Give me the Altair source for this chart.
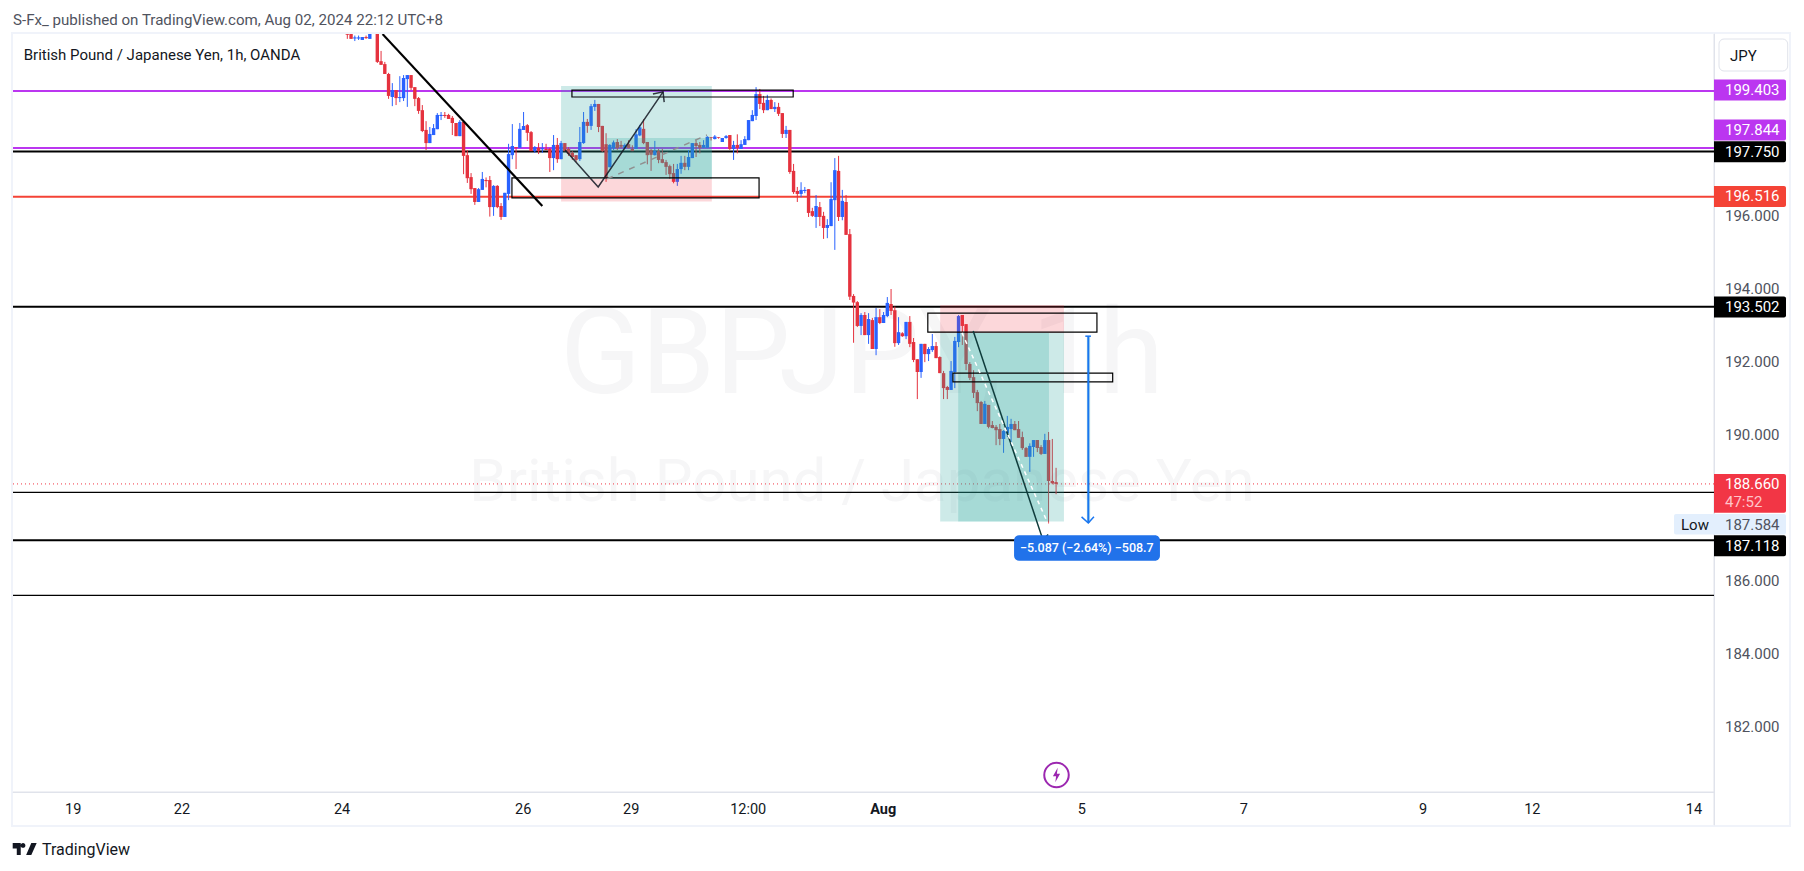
import altair as alt
import pandas as pd

# ---------------------------------------------------------
# DATA (hourly candles, bar number = position on the time axis)
# ---------------------------------------------------------
opens = [
    200.96, 201.05, 200.84, 200.84, 200.80, 200.88, 200.83, 201.05, 201.30, 200.22,
    200.14, 199.87, 199.24, 199.43, 199.21, 199.21, 199.73, 199.84, 199.51, 199.21,
    198.88, 198.34, 197.98, 198.20, 198.36, 198.72, 198.75, 198.75, 198.67, 198.53,
    198.17, 198.56, 197.65, 197.05, 196.75, 196.37, 196.70, 196.97, 196.97, 196.23,
    196.81, 196.26, 195.96, 196.59, 197.65, 197.87, 197.85, 198.34, 198.47, 198.28,
    197.76, 197.85, 197.81, 197.82, 197.82, 197.57, 197.93, 197.54, 197.98, 197.82,
    197.71, 197.65, 197.54, 197.98, 198.56, 198.45, 198.97, 199.05, 198.45, 197.95,
    197.32, 197.84, 198.01, 197.93, 197.84, 197.95, 197.82, 197.82, 198.19, 198.37,
    198.01, 197.79, 197.65, 197.76, 197.54, 197.46, 197.35, 197.16, 196.92, 197.27,
    197.44, 197.33, 197.57, 197.98, 197.93, 197.85, 197.85, 198.14, 198.09, 198.14,
    198.01, 198.12, 198.20, 197.82, 197.93, 197.82, 197.93, 198.06, 198.58, 198.72,
    199.32, 199.08, 198.88, 199.16, 198.91, 198.97, 198.80, 198.23, 198.34, 197.22,
    196.67, 196.59, 196.67, 196.72, 196.12, 195.96, 196.23, 195.99, 195.66, 195.71,
    196.42, 197.22, 195.96, 196.37, 195.49, 193.80, 193.63, 192.98, 193.28, 192.73,
    193.14, 192.35, 193.22, 193.06, 193.25, 193.58, 193.41, 192.51, 192.78, 192.70,
    193.09, 192.54, 192.07, 191.72, 192.49, 192.21, 192.32, 192.43, 192.13, 191.69,
    191.31, 191.23, 191.72, 192.54, 193.28, 193.03, 191.94, 191.58, 191.17, 190.90,
    190.30, 190.82, 190.27, 190.22, 190.16, 189.89, 190.04, 190.16, 190.30, 190.16,
    189.94, 189.64, 189.40, 189.67, 189.86, 189.67, 189.48, 189.86, 188.74, 188.71,
]
highs = [
    200.98, 201.10, 200.92, 200.92, 200.88, 200.92, 201.05, 201.30, 201.40, 200.50,
    200.20, 199.90, 199.62, 199.43, 199.81, 199.84, 199.84, 199.84, 199.51, 199.24,
    199.02, 198.58, 198.42, 198.50, 198.80, 198.83, 198.83, 198.78, 198.72, 198.53,
    198.61, 198.61, 197.79, 197.16, 196.75, 196.75, 197.19, 197.04, 197.08, 196.83,
    196.83, 196.34, 196.62, 197.96, 198.50, 197.87, 198.53, 198.83, 198.50, 198.31,
    197.90, 197.98, 197.98, 197.96, 197.85, 198.20, 198.12, 198.04, 197.98, 197.87,
    197.76, 197.65, 198.42, 198.83, 198.64, 199.05, 199.16, 199.05, 198.45, 198.25,
    197.95, 198.05, 198.09, 198.04, 197.97, 198.06, 197.92, 198.36, 198.48, 198.63,
    198.01, 197.82, 198.04, 197.82, 197.82, 197.52, 197.39, 197.41, 197.41, 197.63,
    197.63, 197.79, 197.98, 198.06, 198.01, 198.06, 198.17, 198.14, 198.20, 198.14,
    198.12, 198.20, 198.20, 198.04, 198.22, 198.06, 198.17, 198.61, 198.88, 199.51,
    199.46, 199.27, 199.30, 199.20, 199.10, 199.08, 198.80, 198.45, 198.34, 197.41,
    196.78, 196.91, 196.78, 196.72, 196.21, 196.56, 196.37, 196.10, 195.90, 196.91,
    197.57, 197.63, 196.70, 196.56, 195.63, 193.85, 193.66, 193.33, 193.36, 193.33,
    193.20, 193.47, 193.44, 193.36, 193.77, 193.99, 193.51, 193.22, 192.81, 193.09,
    193.25, 192.65, 192.07, 192.49, 192.49, 192.40, 192.76, 192.54, 192.15, 191.75,
    191.34, 192.02, 192.68, 193.28, 193.28, 193.03, 191.99, 191.77, 191.23, 190.93,
    190.93, 190.82, 190.38, 190.27, 190.30, 190.13, 190.52, 190.44, 190.38, 190.38,
    190.09, 189.67, 189.77, 189.86, 189.86, 189.72, 190.03, 190.08, 189.89, 189.10,
]
lows = [
    200.83, 200.83, 200.77, 200.80, 200.80, 200.83, 200.83, 201.00, 200.17, 200.12,
    199.87, 199.19, 198.99, 199.02, 199.10, 199.13, 198.97, 199.43, 198.99, 198.78,
    198.28, 197.79, 197.98, 198.20, 198.36, 198.61, 198.67, 198.64, 198.20, 198.17,
    198.17, 197.13, 196.89, 196.59, 196.29, 196.37, 196.70, 196.77, 195.97, 195.99,
    196.20, 195.88, 195.96, 196.42, 197.54, 197.27, 197.85, 198.34, 198.04, 197.76,
    197.71, 197.68, 197.71, 197.79, 197.19, 197.24, 197.44, 197.54, 197.76, 197.63,
    197.52, 197.46, 197.49, 197.96, 198.26, 198.34, 198.86, 198.28, 197.74, 196.92,
    197.32, 197.79, 197.79, 197.84, 197.84, 197.84, 197.76, 197.82, 198.17, 197.95,
    197.40, 197.22, 197.64, 197.43, 197.43, 197.11, 197.00, 196.88, 196.81, 197.14,
    197.24, 197.24, 197.57, 197.60, 197.70, 197.84, 197.84, 198.05, 198.08, 198.10,
    198.01, 198.10, 197.79, 197.52, 197.70, 197.82, 197.93, 198.06, 198.58, 198.61,
    198.91, 198.80, 198.88, 198.91, 198.83, 198.72, 198.12, 198.12, 197.14, 196.59,
    196.37, 196.50, 196.61, 195.96, 195.96, 195.66, 195.71, 195.36, 195.38, 195.71,
    195.06, 195.85, 195.87, 195.47, 193.69, 192.52, 192.95, 192.73, 192.73, 192.49,
    192.35, 192.18, 193.03, 193.06, 193.22, 193.28, 192.41, 192.46, 192.68, 192.62,
    192.40, 191.99, 190.98, 191.56, 191.99, 192.02, 192.27, 192.10, 191.69, 190.98,
    190.98, 191.23, 191.28, 192.40, 192.46, 191.77, 191.50, 191.01, 190.65, 190.30,
    190.30, 190.18, 190.18, 189.72, 189.72, 189.51, 189.95, 189.70, 190.13, 189.92,
    189.59, 189.40, 188.99, 189.40, 189.53, 189.45, 189.48, 187.58, 188.65, 188.38,
]
closes = [
    200.94, 200.83, 200.87, 200.87, 200.88, 200.85, 201.00, 201.20, 200.20, 200.12,
    199.87, 199.27, 199.43, 199.21, 199.24, 199.76, 199.84, 199.49, 199.19, 198.86,
    198.31, 197.98, 198.23, 198.39, 198.75, 198.75, 198.72, 198.64, 198.53, 198.17,
    198.56, 197.63, 197.02, 196.72, 196.37, 196.72, 197.00, 196.94, 196.23, 196.81,
    196.23, 195.96, 196.62, 197.68, 197.90, 197.85, 198.37, 198.45, 198.26, 197.76,
    197.87, 197.76, 197.84, 197.79, 197.57, 197.93, 197.54, 197.98, 197.76, 197.68,
    197.60, 197.52, 198.01, 198.56, 198.45, 198.99, 199.05, 198.42, 197.76, 197.04,
    197.93, 198.00, 197.84, 197.88, 197.93, 197.84, 197.76, 198.22, 198.41, 197.98,
    197.65, 197.66, 197.77, 197.52, 197.44, 197.33, 197.13, 196.92, 197.27, 197.44,
    197.33, 197.60, 197.98, 197.90, 197.85, 197.93, 198.15, 198.12, 198.16, 198.12,
    198.12, 198.17, 197.82, 197.93, 197.85, 197.95, 198.09, 198.61, 198.75, 199.32,
    199.05, 198.88, 199.16, 198.91, 198.97, 198.78, 198.23, 198.34, 197.19, 196.64,
    196.59, 196.70, 196.70, 196.07, 195.99, 196.26, 195.96, 195.66, 195.74, 196.45,
    197.24, 195.96, 196.40, 195.47, 193.78, 193.62, 192.98, 193.28, 192.73, 193.17,
    192.35, 193.22, 193.06, 193.28, 193.61, 193.39, 192.51, 192.81, 192.70, 193.09,
    192.49, 192.05, 191.72, 192.49, 192.21, 192.35, 192.43, 192.10, 191.69, 191.28,
    191.23, 191.75, 192.57, 193.25, 192.98, 191.94, 191.56, 191.15, 190.87, 190.30,
    190.85, 190.22, 190.19, 190.13, 189.89, 190.11, 190.22, 190.30, 190.13, 189.92,
    189.64, 189.40, 189.70, 189.86, 189.64, 189.48, 189.86, 188.74, 188.68, 188.66,
]

time_ticks = [-73.1, -44.1, -1.4, 46.9, 75.7, 106.9, 142.9, 195.9, 239.1, 286.9, 316.0, 359.1]
time_labels = ["19", "22", "24", "26", "29", "12:00", "Aug", "5", "7", "9", "12", "14"]
price_ticks = [196, 194, 192, 190, 186, 184, 182]

level_prices = [199.403, 197.844, 197.75, 196.516, 193.502, 188.43, 187.118, 185.61]
level_colors = ["#bb36f0", "#bb36f0", "#000000", "#f44336", "#000000", "#000000", "#000000", "#000000"]
level_widths = [2, 2, 2.2, 2, 2, 1.2, 2, 1.2]

tag_texts = ["199.403", "197.844", "197.750", "196.516", "193.502", "187.118"]
tag_prices = [199.43, 198.34, 197.745, 196.52, 193.50, 186.97]
tag_colors = ["#bb36f0", "#bb36f0", "#000000", "#f44336", "#000000", "#000000"]

FONT = "Roboto"
X_DOMAIN = [-89.15, 364.45]
Y_DOMAIN = [180.236, 200.963]
W, H = 1701, 758

x_scale = alt.Scale(domain=X_DOMAIN, nice=False, zero=False, padding=0)
y_scale = alt.Scale(domain=Y_DOMAIN, nice=False, zero=False, padding=0)


def _x(field):
    return alt.X(f"{field}:Q", scale=x_scale, axis=None)


def _y(field):
    return alt.Y(f"{field}:Q", scale=y_scale, axis=None)


# ---------------------------------------------------------
# HELPERS
# ---------------------------------------------------------
def price_rect(x1, x2, y1, y2, color, opacity=1.0):
    df = pd.DataFrame({"x1": [x1], "x2": [x2], "y1": [y1], "y2": [y2]})
    return (
        alt.Chart(df)
        .mark_rect(color=color, opacity=opacity)
        .encode(x=_x("x1"), x2="x2:Q", y=_y("y1"), y2="y2:Q")
    )


def outline_box(x1, x2, y1, y2):
    df = pd.DataFrame({"x1": [x1], "x2": [x2], "y1": [y1], "y2": [y2]})
    return (
        alt.Chart(df)
        .mark_rect(stroke="#000000", strokeWidth=1.2, fillOpacity=0)
        .encode(x=_x("x1"), x2="x2:Q", y=_y("y1"), y2="y2:Q")
    )


def path_line(xs, ys, color, width, dash=None, opacity=1.0):
    df = pd.DataFrame({"x": xs, "y": ys, "n": range(len(xs))})
    kw = {"strokeDash": dash} if dash else {}
    return (
        alt.Chart(df)
        .mark_line(color=color, strokeWidth=width, opacity=opacity, clip=True, **kw)
        .encode(x=_x("x"), y=_y("y"), order="n:Q")
    )


def pixel_text(text, x, y, size=14, color="#131722", align="left", weight="normal"):
    return (
        alt.Chart(pd.DataFrame({"t": [text]}))
        .mark_text(font=FONT, fontSize=size, color=color, align=align, baseline="middle", fontWeight=weight)
        .encode(text="t:N", x=alt.value(x), y=alt.value(y))
    )


def pixel_frame(x, x2, y, y2, color, width=1, fill=None, radius=0):
    kw = {"fill": fill} if fill else {"fillOpacity": 0}
    return (
        alt.Chart(pd.DataFrame({"a": [0]}))
        .mark_rect(stroke=color, strokeWidth=width, cornerRadius=radius, **kw)
        .encode(x=alt.value(x), x2=alt.value(x2), y=alt.value(y), y2=alt.value(y2))
    )


def side_tag(price, half, fill):
    df = pd.DataFrame({"y1": [price + half], "y2": [price - half]})
    return (
        alt.Chart(df)
        .mark_rect(color=fill, cornerRadiusTopRight=2, cornerRadiusBottomRight=2)
        .encode(x=alt.value(1701), x2=alt.value(1773), y=_y("y1"), y2="y2:Q")
    )


def side_text(text, price, color="#ffffff", x=1712, size=15):
    df = pd.DataFrame({"t": [text], "y": [price]})
    return (
        alt.Chart(df)
        .mark_text(font=FONT, fontSize=size, color=color, align="left", baseline="middle")
        .encode(text="t:N", x=alt.value(x), y=_y("y"))
    )


# ---------------------------------------------------------
# CANDLES
# ---------------------------------------------------------
candles = pd.DataFrame({"open": opens, "high": highs, "low": lows, "close": closes})
candles["bar"] = range(len(candles))
candles["dir"] = ["up" if c >= o else "down" for o, c in zip(opens, closes)]
candle_color = alt.Color(
    "dir:N", scale=alt.Scale(domain=["up", "down"], range=["#2962ff", "#e5323e"]), legend=None
)
wicks = (
    alt.Chart(candles)
    .mark_rule(strokeWidth=1, clip=True)
    .encode(x=_x("bar"), y=_y("high"), y2="low:Q", color=candle_color)
)
bodies = (
    alt.Chart(candles)
    .mark_bar(size=3.4, clip=True, orient="vertical")
    .encode(x=_x("bar"), y=_y("open"), y2="close:Q", color=candle_color)
)

# ---------------------------------------------------------
# PRICE AXIS LABELS AND HORIZONTAL LEVELS
# ---------------------------------------------------------
price_axis = [side_text(f"{p:.3f}", p, color="#50535e") for p in price_ticks]
level_layers = [
    alt.Chart(pd.DataFrame({"p": [p]}))
    .mark_rule(color=c, strokeWidth=w)
    .encode(y=_y("p"))
    for p, c, w in zip(level_prices, level_colors, level_widths)
]
last_line = (
    alt.Chart(pd.DataFrame({"p": [188.66]}))
    .mark_rule(color="#f23645", strokeWidth=1, strokeDash=[1, 3])
    .encode(y=_y("p"))
)

TEAL = "#26a69a"
PINK = "#f23645"
positions = [
    price_rect(57.0, 97.2, 197.0, 199.54, TEAL, 0.23),
    price_rect(69.2, 97.2, 197.0, 198.12, TEAL, 0.23),
    price_rect(57.0, 97.2, 196.38, 197.0, PINK, 0.2),
    price_rect(158.1, 191.1, 192.79, 193.55, PINK, 0.2),
    price_rect(158.1, 191.1, 187.63, 192.79, TEAL, 0.23),
    price_rect(162.9, 187.1, 187.63, 192.79, TEAL, 0.23),
    price_rect(197.2, 198.1, 187.6, 192.7, TEAL, 0.23),
]
boxes = [
    outline_box(43.9, 109.8, 196.48, 197.03),
    outline_box(59.9, 118.9, 199.24, 199.43),
    outline_box(154.8, 199.9, 192.81, 193.33),
    outline_box(161.5, 204.1, 191.45, 191.69),
]

DARK = "#131722"
BLUE = "#1976f0"
drawings = [
    path_line([9.4, 52.0], [200.96, 196.26], "#000000", 2.2),
    path_line([58.1, 66.9, 84.2], [197.79, 196.78, 199.38], DARK, 1.5, opacity=0.85),
    path_line([81.5, 84.2, 84.5], [199.32, 199.38, 199.10], DARK, 1.5, opacity=0.85),
    path_line([69.3, 95.9], [197.0, 198.2], "#909090", 1.5, dash=[6, 6]),
    path_line([166.9, 185.5], [192.84, 187.13], "#0f3c3c", 1.5),
    path_line([183.8, 185.5, 186.9], [187.22, 187.13, 187.28], "#0f3c3c", 1.5),
    path_line([163.9, 186.8], [192.79, 187.59], "#ffffff", 1.5, dash=[4, 4]),
    path_line([197.6, 197.6], [192.7, 187.59], BLUE, 2),
    path_line([196.8, 198.3], [192.7, 192.7], BLUE, 1.5),
    path_line([195.8, 197.6, 199.1], [187.76, 187.59, 187.76], BLUE, 1.5),
]

measure_box = (
    alt.Chart(pd.DataFrame({"x1": [177.8], "x2": [216.7], "y1": [187.26], "y2": [186.56]}))
    .mark_rect(color="#2172ea", cornerRadius=5)
    .encode(x=_x("x1"), x2="x2:Q", y=_y("y1"), y2="y2:Q")
)
measure_text = (
    alt.Chart(pd.DataFrame({"x": [197.2], "y": [186.91], "t": ["−5.087 (−2.64%) −508.7"]}))
    .mark_text(font=FONT, fontSize=12.5, color="#ffffff", align="center", baseline="middle", fontWeight=500)
    .encode(x=_x("x"), y=_y("y"), text="t:N")
)

# ---------------------------------------------------------
# LABELS / FRAME
# ---------------------------------------------------------
time_df = pd.DataFrame({"x": time_ticks, "t": time_labels})
time_axis = (
    alt.Chart(time_df)
    .transform_filter("datum.t != 'Aug'")
    .mark_text(font=FONT, fontSize=14.5, color="#131722", baseline="middle", align="center")
    .encode(x=_x("x"), y=alt.value(776), text="t:N")
)
time_axis_bold = (
    alt.Chart(time_df)
    .transform_filter("datum.t == 'Aug'")
    .mark_text(font=FONT, fontSize=14.5, color="#131722", baseline="middle", align="center", fontWeight="bold")
    .encode(x=_x("x"), y=alt.value(776), text="t:N")
)

LOGO = "M-1 -.5H-.33V.5H-.66V-.05H-1ZM.55 -.5H1L.55 .5H.12ZM-.14 -.5A.2 .2 0 1 1 -.14 -.1A.2 .2 0 1 1 -.14 -.5Z"
BOLT = "M.15 -.9L-.45 .15H-.05L-.15 .9L.45 -.15H.05Z"


def icon(shape, x, y, size, color, filled=True, width=0):
    return (
        alt.Chart(pd.DataFrame({"a": [0]}))
        .mark_point(shape=shape, size=size, filled=filled, color=color, strokeWidth=width, opacity=1)
        .encode(x=alt.value(x), y=alt.value(y))
    )


layers = (
    [
        pixel_frame(-1, 1777, -1, 792, "#f0f3fa", 2),
        pixel_frame(1701, 1701.5, 0, 791, "#e0e3eb", 1),
        pixel_frame(0, 1701, 758, 758.5, "#e0e3eb", 1),
        pixel_text("GBPJPY, 1h", 849, 323, size=119, color="#f6f6f7", align="center"),
        pixel_text("British Pound / Japanese Yen", 849, 449, size=60, color="#f6f6f7", align="center"),
    ]
    + price_axis
    + level_layers
    + [last_line, wicks, bodies]
    + positions
    + boxes
    + drawings
    + [measure_box, measure_text]
    + [side_tag(p, 0.287, c) for p, c in zip(tag_prices, tag_colors)]
    + [side_text(t, p) for t, p in zip(tag_texts, tag_prices)]
    + [
        side_tag(188.40, 0.53, "#f23645"),
        side_text("188.660", 188.66),
        side_text("47:52", 188.17, color="#ffc4c9"),
        pixel_frame(1661, 1773, 480, 500.5, "#e3effd", 0, fill="#e3effd", radius=2),
        pixel_text("Low", 1668, 491, size=15, color="#131722"),
        pixel_text("187.584", 1712, 491, size=15, color="#50535e"),
        pixel_frame(1706, 1774.7, 5, 37, "#e0e3eb", 1, radius=5),
        pixel_text("JPY", 1717, 22, size=15),
        pixel_text("S-Fx_ published on TradingView.com, Aug 02, 2024 22:12 UTC+8", 0, -14, size=15.1, color="#50535e"),
        pixel_text("British Pound / Japanese Yen, 1h, OANDA", 10.7, 20.5, size=15),
        time_axis,
        time_axis_bold,
        icon("circle", 1043.5, 741, 600, "#9c27b0", filled=False, width=2),
        icon(BOLT, 1043.5, 741, 256, "#9c27b0"),
        icon(LOGO, 11.7, 815, 576, "#131722"),
        pixel_text("TradingView", 29, 816, size=16),
    ]
)

chart = (
    alt.layer(*layers)
    .properties(
        width=W,
        height=H,
        background="#ffffff",
        autosize=alt.AutoSizeParams(type="none"),
        padding={"left": 5, "top": 26, "right": 82, "bottom": 66},
    )
    .configure_view(strokeWidth=0)
)

chart.save("out.html", embed_options={"renderer": "svg", "actions": False})
